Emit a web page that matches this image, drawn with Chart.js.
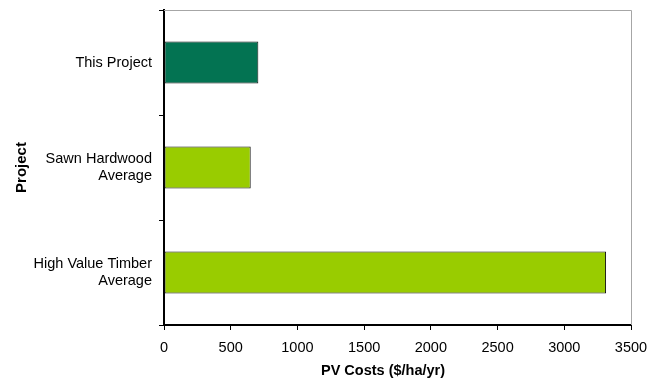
<!DOCTYPE html>
<html>
<head>
<meta charset="utf-8">
<script src="https://cdn.jsdelivr.net/npm/chart.js@4"></script>
<style>
  html, body { margin: 0; padding: 0; background: #ffffff; }
  #wrap { width: 648px; height: 381px; position: relative; }
</style>
</head>
<body>
<div id="wrap"><canvas id="chart" width="648" height="381"></canvas></div>
<script>
// Present value cost per project type
const categories = ['This Project', ['Sawn Hardwood', 'Average'], ['High Value Timber', 'Average']];
const pvCosts = [707, 650, 3313];
const barColors = ['#037352', '#99cc00', '#99cc00'];
const xMin = 0, xMax = 3500, xStep = 500;
const xTitle = 'PV Costs ($/ha/yr)';
const yTitle = 'Project';

const FONT = "'Liberation Sans', Arial, sans-serif";

// keep the plot box fixed: no extra room reserved for overhanging labels
function noLabelPadding(scale) {
  scale.paddingTop = 0;
  scale.paddingBottom = 0;
  scale.paddingLeft = 0;
  scale.paddingRight = 0;
}

// grey frame on the top and right of the plot, plus the x axis title
const framePlugin = {
  id: 'frame',
  afterDraw(chart) {
    const { ctx, chartArea: a } = chart;
    ctx.save();
    ctx.strokeStyle = '#a6a6a6';
    ctx.lineWidth = 1;
    ctx.beginPath();
    ctx.moveTo(a.left, a.top + 0.5);
    ctx.lineTo(a.right + 0.5, a.top + 0.5);
    ctx.lineTo(a.right + 0.5, a.bottom);
    ctx.stroke();
    ctx.fillStyle = '#000';
    ctx.font = 'bold 14.5px ' + FONT;
    ctx.textAlign = 'center';
    ctx.textBaseline = 'middle';
    ctx.fillText(xTitle, 383, 371);
    ctx.restore();
  }
};

new Chart(document.getElementById('chart'), {
  type: 'bar',
  data: {
    labels: categories,
    datasets: [{
      data: pvCosts,
      backgroundColor: barColors,
      borderColor: '#111111',
      borderWidth: 1,
      borderSkipped: false,
      barPercentage: 0.4,
      categoryPercentage: 1.0
    }]
  },
  options: {
    indexAxis: 'y',
    responsive: false,
    animation: false,
    devicePixelRatio: 1,
    layout: { padding: { top: 10, right: 17, left: 0, bottom: 0 } },
    plugins: { legend: { display: false }, tooltip: { enabled: false } },
    scales: {
      x: {
        min: xMin,
        max: xMax,
        ticks: {
          stepSize: xStep, color: '#000', font: { family: FONT, size: 14.5 }, padding: 9, maxRotation: 0,
          callback: (v) => String(v)
        },
        grid: { drawOnChartArea: false, drawTicks: true, tickLength: 5, color: '#000', lineWidth: 1 },
        border: { display: true, color: '#000', width: 2 },
        afterFit(scale) { scale.height = 56; noLabelPadding(scale); }
      },
      y: {
        ticks: { color: '#000', font: { family: FONT, size: 14.5, lineHeight: 1.17 }, padding: 7 },
        grid: { drawOnChartArea: false, drawTicks: true, tickLength: 5, color: '#000', lineWidth: 1, offset: true },
        border: { display: true, color: '#000', width: 2 },
        title: { display: true, text: yTitle, color: '#000', font: { family: FONT, size: 15, weight: 'bold' }, padding: { top: 13, bottom: 0 } },
        afterFit(scale) { scale.width = 164; noLabelPadding(scale); }
      }
    }
  },
  plugins: [framePlugin]
});
</script>
</body>
</html>
